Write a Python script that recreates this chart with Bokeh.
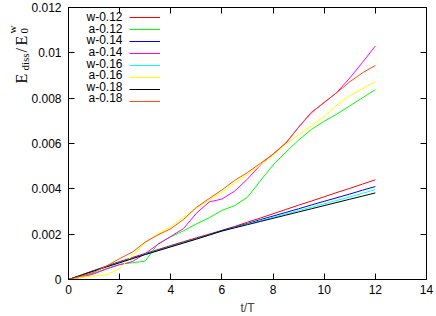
import math
from bokeh.plotting import figure
from bokeh.models import LinearAxis, FixedTicker, Legend, LegendItem, Label, Range1d
from bokeh.embed import file_html
from bokeh.resources import INLINE

# ---------------- data ----------------
t = [0, 0.5, 1, 1.5, 2, 2.5, 3, 3.5, 4, 4.5, 5, 5.5, 6,
     6.5, 7, 7.5, 8, 8.5, 9, 9.5, 10, 10.5, 11, 11.5, 12]

w_012 = [0, 0.00020, 0.00040, 0.00060, 0.00079, 0.00097, 0.00115, 0.00132, 0.00150,
         0.00167, 0.00184, 0.00200, 0.00217, 0.00234, 0.00253, 0.00271, 0.00290,
         0.00309, 0.00328, 0.00346, 0.00365, 0.00384, 0.00402, 0.00421, 0.00440]
a_012 = [0, 0.00012, 0.00028, 0.00048, 0.00067, 0.00074, 0.00081, 0.00158, 0.00188,
         0.00215, 0.00245, 0.00272, 0.00305, 0.00326, 0.00363, 0.00435, 0.00505,
         0.00562, 0.00615, 0.00662, 0.00698, 0.00730, 0.00766, 0.00802, 0.00837]
w_014 = [0, 0.00019, 0.00039, 0.00058, 0.00076, 0.00094, 0.00112, 0.00129, 0.00146,
         0.00163, 0.00180, 0.00197, 0.00215, 0.00231, 0.00247, 0.00264, 0.00280,
         0.00296, 0.00312, 0.00329, 0.00345, 0.00361, 0.00377, 0.00394, 0.00410]
a_014 = [0, 0.00010, 0.00025, 0.00047, 0.00065, 0.00079, 0.00114, 0.00155, 0.00190,
         0.00225, 0.00292, 0.00342, 0.00355, 0.00390, 0.00443, 0.00505, 0.00553,
         0.00601, 0.00672, 0.00738, 0.00780, 0.00826, 0.00889, 0.00958, 0.01030]
w_016 = [0, 0.00019, 0.00038, 0.00057, 0.00075, 0.00093, 0.00111, 0.00128, 0.00145,
         0.00162, 0.00179, 0.00196, 0.00213, 0.00229, 0.00244, 0.00259, 0.00274,
         0.00289, 0.00304, 0.00319, 0.00334, 0.00349, 0.00364, 0.00380, 0.00397]
a_016 = [0, 0.00010, 0.00015, 0.00021, 0.00048, 0.00105, 0.00162, 0.00202, 0.00232,
         0.00275, 0.00315, 0.00350, 0.00385, 0.00425, 0.00462, 0.00505, 0.00548,
         0.00598, 0.00638, 0.00678, 0.00720, 0.00770, 0.00810, 0.00842, 0.00872]
w_018 = [0, 0.00019, 0.00038, 0.00056, 0.00074, 0.00092, 0.00110, 0.00127, 0.00144,
         0.00161, 0.00178, 0.00196, 0.00214, 0.00228, 0.00242, 0.00256, 0.00270,
         0.00284, 0.00298, 0.00312, 0.00326, 0.00340, 0.00354, 0.00368, 0.00382]
a_018 = [0, 0.00015, 0.00032, 0.00060, 0.00092, 0.00121, 0.00165, 0.00197, 0.00224,
         0.00265, 0.00318, 0.00357, 0.00395, 0.00437, 0.00472, 0.00512, 0.00553,
         0.00603, 0.00672, 0.00735, 0.00782, 0.00825, 0.00872, 0.00912, 0.00944]

series_names = ["w-0.12", "a-0.12", "w-0.14", "a-0.14", "w-0.16", "a-0.16", "w-0.18", "a-0.18"]
series_values = [w_012, a_012, w_014, a_014, w_016, a_016, w_018, a_018]
series_colors = ["#ff0000", "#00ff00", "#0000ff", "#ff00ff", "#00ffff", "#ffff00", "#000000", "#ff4d00"]

x_ticks = [0, 2, 4, 6, 8, 10, 12, 14]
y_ticks = [0, 0.002, 0.004, 0.006, 0.008, 0.01, 0.012]
y_tick_labels = ["0", "0.002", "0.004", "0.006", "0.008", "0.01", "0.012"]
x_label = "t/T"

FONT = "Liberation Sans"
SERIF = "Liberation Serif"

# ---------------- layout (pixels of the canvas) ----------------
FL, FT, FW, FH = 68, 7, 358, 272     # frame left, top, width, height
X0, X1, Y0, Y1 = 0, 14, 0, 0.012

def dx(px):   # canvas px -> data x
    return X0 + (px - FL) / FW * (X1 - X0)

def dy(py):   # canvas py -> data y
    return Y0 + (FT + FH - py) / FH * (Y1 - Y0)

p = figure(frame_width=FW, frame_height=FH, output_backend="svg", toolbar_location=None,
           x_range=Range1d(X0, X1), y_range=Range1d(Y0, Y1),
           min_border_left=FL, min_border_right=436 - FL - FW, min_border_top=FT,
           min_border_bottom=316 - FT - FH)
p.background_fill_color = "white"
p.border_fill_color = "white"
p.outline_line_color = "black"
p.outline_line_width = 1
p.xgrid.visible = False
p.ygrid.visible = False

def style_axis(ax, ticks, show_labels):
    ax.ticker = FixedTicker(ticks=ticks)
    ax.major_tick_in = 6
    ax.major_tick_out = 0
    ax.minor_tick_line_color = None
    ax.axis_line_color = "black"
    ax.major_tick_line_color = "black"
    ax.major_label_text_font = FONT
    ax.major_label_text_font_size = "12px"
    ax.major_label_text_color = "black"
    if not show_labels:
        ax.major_label_text_font_size = "0px"
        ax.major_label_standoff = 0

xa = p.xaxis[0]
style_axis(xa, x_ticks, True)
xa.major_label_standoff = 5
xa.axis_label = x_label
xa.axis_label_text_font = FONT
xa.axis_label_text_font_size = "12px"
xa.axis_label_text_font_style = "normal"
xa.axis_label_standoff = 4

ya = p.yaxis[0]
style_axis(ya, y_ticks, True)
ya.major_label_standoff = 7
ya.major_label_overrides = {v: s for v, s in zip(y_ticks, y_tick_labels)}

top_ax = LinearAxis()
style_axis(top_ax, x_ticks, False)
p.add_layout(top_ax, "above")
right_ax = LinearAxis()
style_axis(right_ax, y_ticks, False)
p.add_layout(right_ax, "right")

# ---------------- series ----------------
renderers = []
for vals, col in zip(series_values, series_colors):
    r = p.line(t, vals, line_color=col, line_width=1)
    renderers.append(r)

# ---------------- legend: samples via Legend, texts right-aligned via Labels ----------------
ROW0, PITCH = 16.7, 11.6
legend_lines = Legend(items=[LegendItem(label=" ", renderers=[r]) for r in renderers],
                      location=(129 - FL, FT + FH - (ROW0 - 6 + 8 * 12)), glyph_width=31,
                      glyph_height=12, label_height=12, label_standoff=0, padding=0, margin=0,
                      spacing=0, border_line_alpha=0, background_fill_alpha=0,
                      label_text_font=FONT, label_text_font_size="1px")
p.add_layout(legend_lines, "center")

for i, name in enumerate(series_names):
    p.add_layout(Label(x=dx(122), y=dy(ROW0 + i * PITCH), text=name, text_font=FONT,
                       text_font_size="12px", text_align="right", text_baseline="middle",
                       text_color="black"))

# ---------------- y axis label: E_diss / E_0^w (rotated) ----------------
# placed in a side panel so that it is not clipped to the frame; the right-hand
# panel is used so that its slot lies beyond the visible page width
def lab(text, px, py, size):
    p.add_layout(Label(x=dx(px), y=dy(py), text=text, angle=math.pi / 2, text_font=SERIF,
                       text_font_size=size, text_align="left", text_baseline="alphabetic",
                       text_color="black"), "right")

lab("E", 20.7, 83, "16px")
lab("diss", 24.0, 70, "11px")
lab("/", 20.7, 52, "16px")
lab("E", 20.7, 45, "16px")
lab("0", 24.0, 33, "11px")
lab("w", 11.7, 33, "11px")

open("out.html", "w").write(file_html(p, INLINE))
